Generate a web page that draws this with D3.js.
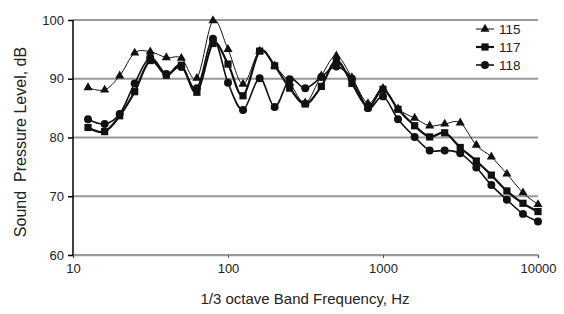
<!DOCTYPE html>
<html><head><meta charset="utf-8">
<script src="https://cdn.jsdelivr.net/npm/d3@7"></script>
<style>body{margin:0;background:#fff}svg{display:block}text{font-family:"Liberation Sans",Arial,sans-serif;fill:#222}</style>
</head><body><svg id="c" width="564" height="314"></svg>
<script>
const freqs = [12.5,16,20,25,31.5,40,50,63,80,100,125,160,200,250,315,400,500,630,800,1000,1250,1600,2000,2500,3150,4000,5000,6300,8000,10000];
const s115 = [88.5,88.1,90.5,94.4,94.6,93.6,93.5,90.1,99.9,95.0,89.1,94.7,92.2,89.3,85.9,90.5,93.9,90.2,85.8,88.4,84.9,83.3,82.0,82.3,82.5,78.7,76.7,73.8,70.6,68.6];
const s117 = [81.7,81.0,83.7,87.8,93.1,90.6,92.3,87.7,96.0,92.5,87.1,94.7,92.2,88.4,85.7,88.7,93.1,89.2,85.2,88.2,84.8,82.0,80.1,80.8,78.3,76.0,73.6,70.9,68.8,67.4];
const s118 = [83.1,82.3,84.0,89.2,93.6,90.8,92.0,88.4,96.8,89.3,84.7,90.1,85.2,89.9,88.4,90.3,92.1,90.0,85.0,87.0,83.1,80.1,77.8,77.8,77.3,74.9,71.9,69.4,67.0,65.7];
const seriesNames = ["115","117","118"];
const xTicks = [10,100,1000,10000];
const yTicks = [60,70,80,90,100];

const svg = d3.select("#c");
const x = d3.scaleLog().domain([10,10000]).range([73,538]);
const y = d3.scaleLinear().domain([60,100]).range([255,20]);

// gridlines
svg.append("g").selectAll("line").data(yTicks).join("line")
  .attr("x1",73).attr("x2",538).attr("y1",d=>y(d)).attr("y2",d=>y(d))
  .attr("stroke","#999").attr("stroke-width",2);

// x axis
const xa = svg.append("g").attr("transform","translate(0,255)")
  .call(d3.axisBottom(x).tickValues(xTicks).tickFormat(d3.format("d")).tickSize(3).tickPadding(6));
xa.select(".domain").attr("stroke","#999").attr("stroke-width",1.5);
xa.selectAll(".tick line").attr("stroke","#555");
xa.selectAll("text").attr("font-size",13).attr("font-family","Liberation Sans, Arial, sans-serif").attr("fill","#222");

// y axis
const ya = svg.append("g").attr("transform","translate(73,0)")
  .call(d3.axisLeft(y).tickValues(yTicks).tickSize(5).tickPadding(4));
ya.select(".domain").attr("stroke","#000").attr("stroke-width",1.5).attr("d","M0,20V255");
ya.selectAll(".tick line").attr("stroke","#000").attr("stroke-width",1.5);
ya.selectAll("text").attr("font-size",13).attr("font-family","Liberation Sans, Arial, sans-serif").attr("fill","#222");

const series = [
  {name:seriesNames[0], vals:s115, w:1, m:"tri"},
  {name:seriesNames[1], vals:s117, w:2.2, m:"sq"},
  {name:seriesNames[2], vals:s118, w:1.6, m:"ci"}
];
const line = d3.line().x(d=>x(d[0])).y(d=>y(d[1])).curve(d3.curveCatmullRom.alpha(0));
const sym = {tri:d3.symbol().type(d3.symbolTriangle).size(36), sq:d3.symbol().type(d3.symbolSquare).size(52), ci:d3.symbol().type(d3.symbolCircle).size(50)};

series.forEach(s=>{
  const pts = freqs.map((f,i)=>[f,s.vals[i]]);
  svg.append("path").attr("d",line(pts)).attr("fill","none").attr("stroke","#111").attr("stroke-width",s.w);
  svg.append("g").selectAll("path").data(pts).join("path")
    .attr("d",sym[s.m]()).attr("transform",d=>`translate(${x(d[0])},${y(d[1])})`).attr("fill","#111");
});

// legend
const lg = svg.append("g");
series.forEach((s,i)=>{
  const ly = 29 + i*18;
  lg.append("line").attr("x1",476).attr("x2",494).attr("y1",ly).attr("y2",ly).attr("stroke","#111").attr("stroke-width",s.w);
  lg.append("path").attr("d",sym[s.m]()).attr("transform",`translate(485,${ly})`).attr("fill","#111");
  lg.append("text").attr("x",499).attr("y",ly+5).attr("font-size",13.5).text(s.name);
});

// axis titles
svg.append("text").attr("x",305).attr("y",304).attr("text-anchor","middle").attr("font-size",15).text("1/3 octave Band Frequency, Hz");
svg.append("text").attr("transform","translate(26,142) rotate(-90)").attr("text-anchor","middle").attr("font-size",16).attr("xml:space","preserve").style("white-space","pre").text("Sound  Pressure Level, dB");
</script></body></html>
